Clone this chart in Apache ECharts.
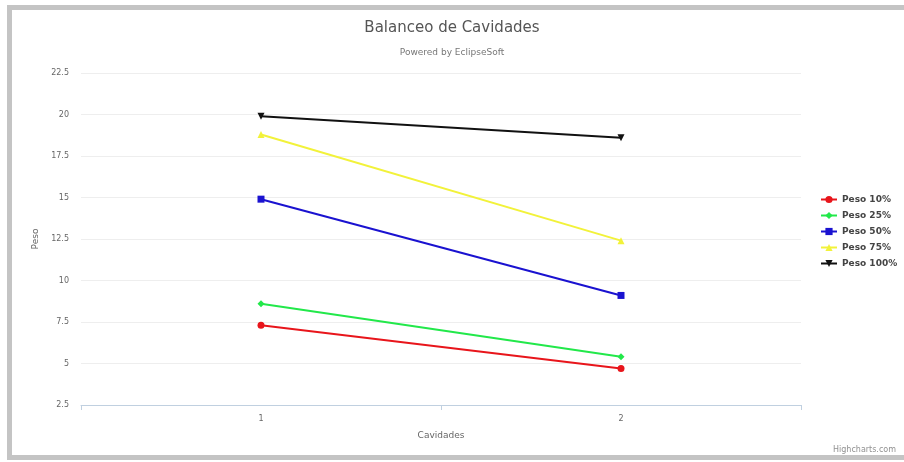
<!DOCTYPE html>
<html><head><meta charset="utf-8">
<script src="https://cdn.jsdelivr.net/npm/echarts@6/dist/echarts.min.js"></script>
<style>html,body{margin:0;padding:0;background:#fff}#c{width:904px;height:462px}</style>
</head><body><div id="c"></div>
<script>
var categories = ['1', '2'];
var seriesNames = ['Peso 10%', 'Peso 25%', 'Peso 50%', 'Peso 75%', 'Peso 100%'];
var peso10 = [7.3, 4.7];
var peso25 = [8.6, 5.4];
var peso50 = [14.9, 9.1];
var peso75 = [18.8, 12.4];
var peso100 = [19.9, 18.6];
var yTicks = [2.5, 5, 7.5, 10, 12.5, 15, 17.5, 20, 22.5];

var colors = ['#e8151b', '#22e84a', '#1a12d0', '#f2f23a', '#111111'];
var symbols = ['circle', 'diamond', 'rect', 'triangle', 'path://M0,0 L10,0 L5,10 Z'];
var values = [peso10, peso25, peso50, peso75, peso100];

var chart = echarts.init(document.getElementById('c'));
var font = 'Lucida Grande, DejaVu Sans, sans-serif';
chart.setOption({
  animation: false,
  textStyle: { fontFamily: font },
  graphic: [
    { type: 'rect', shape: { x: 7, y: 5, width: 897, height: 5 }, style: { fill: '#c4c4c4' }, silent: true },
    { type: 'rect', shape: { x: 7, y: 5, width: 5, height: 455 }, style: { fill: '#c4c4c4' }, silent: true },
    { type: 'rect', shape: { x: 7, y: 455, width: 897, height: 5 }, style: { fill: '#c4c4c4' }, silent: true },
    { type: 'text', right: 8, bottom: 8, style: { text: 'Highcharts.com', fill: '#909090', fontSize: 8, fontFamily: font } }
  ],
  title: {
    text: 'Balanceo de Cavidades',
    subtext: 'Powered by EclipseSoft',
    left: 'center', top: 16,
    itemGap: 12,
    textStyle: { fontSize: 15, fontWeight: 'normal', color: '#555555', fontFamily: font },
    subtextStyle: { fontSize: 9, color: '#777777', fontFamily: font }
  },
  legend: {
    orient: 'vertical',
    left: 815, top: 190,
    itemGap: 7, itemWidth: 16, itemHeight: 9,
    textStyle: { fontSize: 9, fontWeight: 'bold', color: '#444444' },
    data: seriesNames
  },
  grid: { left: 81, right: 103, top: 73, bottom: 57 },
  xAxis: {
    type: 'category', data: categories, boundaryGap: true,
    name: 'Cavidades', nameLocation: 'middle', nameGap: 26,
    nameTextStyle: { fontSize: 9, color: '#666666' },
    axisLine: { lineStyle: { color: '#c0d0e0' } },
    axisTick: { show: true, length: 5, lineStyle: { color: '#c0d0e0' } },
    axisLabel: { fontSize: 8, color: '#666', margin: 10 }
  },
  yAxis: {
    type: 'value', min: yTicks[0], max: yTicks[yTicks.length - 1], interval: 2.5,
    name: 'Peso', nameLocation: 'middle', nameGap: 40,
    nameTextStyle: { fontSize: 9, color: '#666666' },
    axisLine: { show: false }, axisTick: { show: false },
    splitLine: { lineStyle: { color: '#eeeeee' } },
    axisLabel: { fontSize: 8, color: '#666', margin: 12 }
  },
  series: seriesNames.map(function (n, i) {
    return {
      name: n, type: 'line', data: values[i],
      symbol: symbols[i], symbolSize: 7,
      showAllSymbol: true,
      lineStyle: { width: 2, color: colors[i] },
      itemStyle: { color: colors[i] }
    };
  })
});
</script>
</body></html>
